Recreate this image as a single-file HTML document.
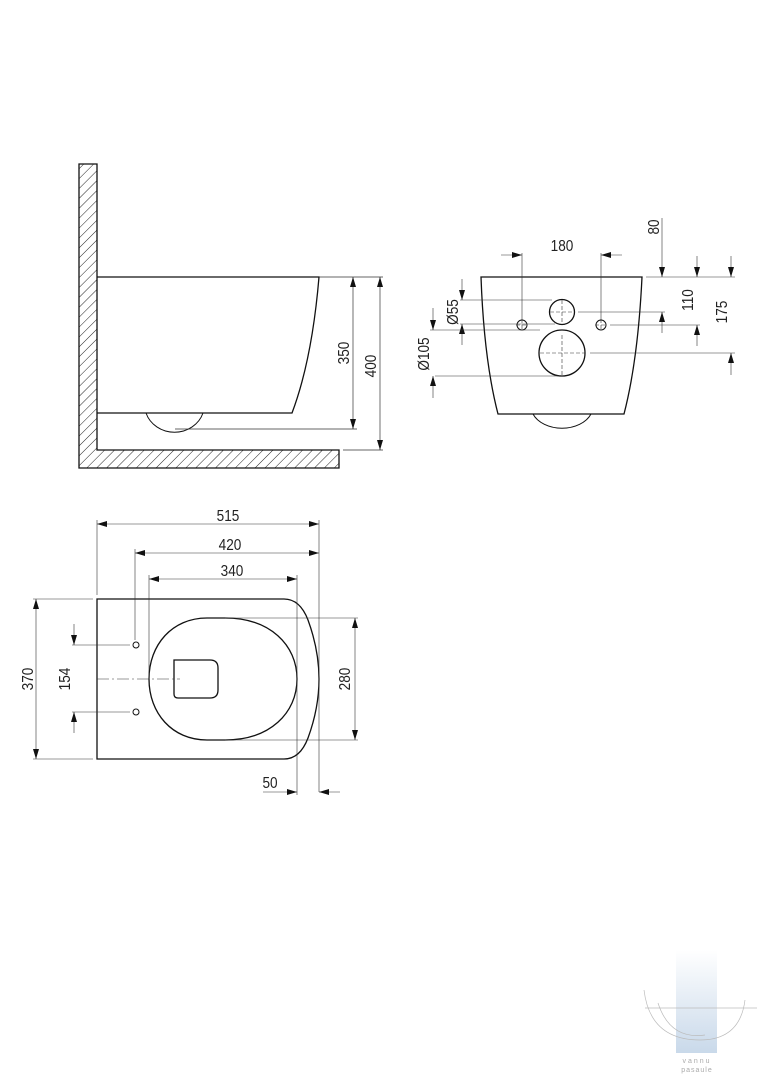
<!DOCTYPE html>
<html><head><meta charset="utf-8"><style>
html,body{margin:0;padding:0;background:#fff;}
svg text{font-family:"Liberation Sans",sans-serif;font-size:16px;fill:#222;}
</style></head><body>
<svg width="764" height="1080" viewBox="0 0 764 1080" xmlns="http://www.w3.org/2000/svg">
<defs>
<pattern id="h" width="7" height="7" patternUnits="userSpaceOnUse" patternTransform="rotate(45)">
<line x1="0" y1="0" x2="0" y2="7" stroke="#222" stroke-width="1"/></pattern>
<marker id="a" viewBox="0 0 10 6" refX="10" refY="3" markerWidth="10" markerHeight="6" orient="auto-start-reverse" markerUnits="userSpaceOnUse"><path d="M0,0 L10,3 L0,6 Z" fill="#111"/></marker>
<linearGradient id="g" x1="0" y1="0" x2="0" y2="1"><stop offset="0" stop-color="#fff"/><stop offset="1" stop-color="#c9d9ea"/></linearGradient>
</defs>
<g stroke="#111" stroke-width="1.3" fill="none">
<path d="M79,164 H97 V450 H339 V468 H79 Z" fill="url(#h)"/>
<path d="M97,277 H319 Q312,360 292,413 H97"/>
<path d="M146,413 A30,28 0 0 0 203,413" stroke-width="1"/>
</g>
<g stroke="#333" stroke-width="0.7" fill="none">
<line x1="319" y1="277" x2="383" y2="277"/>
<line x1="175" y1="429" x2="357" y2="429"/>
<line x1="343" y1="450" x2="383" y2="450"/>
<line x1="353" y1="277" x2="353" y2="429" marker-start="url(#a)" marker-end="url(#a)"/>
<line x1="380" y1="277" x2="380" y2="450" marker-start="url(#a)" marker-end="url(#a)"/>
</g>
<g transform="translate(349,353) rotate(-90) scale(0.85,1)"><text text-anchor="middle">350</text></g>
<g transform="translate(376,366) rotate(-90) scale(0.85,1)"><text text-anchor="middle">400</text></g>

<g stroke="#111" stroke-width="1.3" fill="none">
<path d="M481,277 H642 Q638,360 624,414 H498 Q484,360 481,277 Z"/>
<path d="M533,414 A31,22 0 0 0 591,414" stroke-width="1"/>
<circle cx="562" cy="312" r="12.5"/>
<circle cx="562" cy="353" r="23"/>
<circle cx="522" cy="325" r="5" stroke-width="1"/>
<circle cx="601" cy="325" r="5" stroke-width="1"/>
</g>
<g stroke="#333" stroke-width="0.6" fill="none">
<path d="M562,300 V324 M550,312 H574 M562,335 V376 M540,353 H585 M522,319 V331 M516,325 H528 M601,319 V331 M595,325 H607" stroke-dasharray="4,2"/>
<line x1="522" y1="253" x2="522" y2="320"/>
<line x1="601" y1="253" x2="601" y2="320"/>
<line x1="501" y1="255" x2="522" y2="255" marker-end="url(#a)"/>
<line x1="622" y1="255" x2="601" y2="255" marker-end="url(#a)"/>
<line x1="460" y1="300" x2="552" y2="300"/>
<line x1="460" y1="324" x2="555" y2="324"/>
<line x1="462" y1="279" x2="462" y2="300" marker-end="url(#a)"/>
<line x1="462" y1="345" x2="462" y2="324" marker-end="url(#a)"/>
<line x1="430" y1="330" x2="540" y2="330"/>
<line x1="435" y1="376" x2="560" y2="376"/>
<line x1="433" y1="308" x2="433" y2="330" marker-end="url(#a)"/>
<line x1="433" y1="398" x2="433" y2="376" marker-end="url(#a)"/>
<line x1="646" y1="277" x2="735" y2="277"/>
<line x1="578" y1="312" x2="665" y2="312"/>
<line x1="610" y1="325" x2="700" y2="325"/>
<line x1="590" y1="353" x2="735" y2="353"/>
<line x1="662" y1="218" x2="662" y2="277" marker-end="url(#a)"/>
<line x1="662" y1="333" x2="662" y2="312" marker-end="url(#a)"/>
<line x1="697" y1="256" x2="697" y2="277" marker-end="url(#a)"/>
<line x1="697" y1="346" x2="697" y2="325" marker-end="url(#a)"/>
<line x1="731" y1="256" x2="731" y2="277" marker-end="url(#a)"/>
<line x1="731" y1="375" x2="731" y2="353" marker-end="url(#a)"/>
</g>
<g transform="translate(562,251) scale(0.85,1)"><text text-anchor="middle">180</text></g>
<g transform="translate(458,312) rotate(-90) scale(0.85,1)"><text text-anchor="middle">Ø55</text></g>
<g transform="translate(429,354) rotate(-90) scale(0.85,1)"><text text-anchor="middle">Ø105</text></g>
<g transform="translate(659,227) rotate(-90) scale(0.85,1)"><text text-anchor="middle">80</text></g>
<g transform="translate(693,300) rotate(-90) scale(0.85,1)"><text text-anchor="middle">110</text></g>
<g transform="translate(727,312) rotate(-90) scale(0.85,1)"><text text-anchor="middle">175</text></g>

<g stroke="#111" stroke-width="1.3" fill="none">
<path d="M97,599 H284 Q300,599 308,620 Q319,650 319,679 Q319,708 308,738 Q300,759 284,759 H97 Z"/>
<path d="M225,618 C270,618 297,645 297,679 C297,713 270,740 225,740 L207,740 C172,740 149,713 149,679 C149,645 172,618 207,618 Z"/>
<path d="M174,660 H210 Q218,660 218,668 V690 Q218,698 210,698 H178 Q174,698 174,694 Z"/>
<circle cx="136" cy="645" r="3" stroke-width="1"/>
<circle cx="136" cy="712" r="3" stroke-width="1"/>
</g>
<g stroke="#333" stroke-width="0.6" fill="none">
<line x1="97" y1="679" x2="180" y2="679" stroke-dasharray="12,3,2,3"/>
<line x1="97" y1="520" x2="97" y2="595"/>
<line x1="319" y1="520" x2="319" y2="792"/>
<line x1="135" y1="549" x2="135" y2="640"/>
<line x1="149" y1="575" x2="149" y2="679"/>
<line x1="297" y1="575" x2="297" y2="795"/>
<line x1="97" y1="524" x2="319" y2="524" marker-start="url(#a)" marker-end="url(#a)"/>
<line x1="135" y1="553" x2="319" y2="553" marker-start="url(#a)" marker-end="url(#a)"/>
<line x1="149" y1="579" x2="297" y2="579" marker-start="url(#a)" marker-end="url(#a)"/>
<line x1="33" y1="599" x2="93" y2="599"/>
<line x1="33" y1="759" x2="93" y2="759"/>
<line x1="36" y1="599" x2="36" y2="759" marker-start="url(#a)" marker-end="url(#a)"/>
<line x1="72" y1="645" x2="130" y2="645"/>
<line x1="72" y1="712" x2="130" y2="712"/>
<line x1="74" y1="624" x2="74" y2="645" marker-end="url(#a)"/>
<line x1="74" y1="733" x2="74" y2="712" marker-end="url(#a)"/>
<line x1="225" y1="618" x2="358" y2="618"/>
<line x1="225" y1="740" x2="358" y2="740"/>
<line x1="355" y1="618" x2="355" y2="740" marker-start="url(#a)" marker-end="url(#a)"/>
<line x1="263" y1="792" x2="297" y2="792" marker-end="url(#a)"/>
<line x1="340" y1="792" x2="319" y2="792" marker-end="url(#a)"/>
</g>
<g transform="translate(228,521) scale(0.85,1)"><text text-anchor="middle">515</text></g>
<g transform="translate(230,550) scale(0.85,1)"><text text-anchor="middle">420</text></g>
<g transform="translate(232,576) scale(0.85,1)"><text text-anchor="middle">340</text></g>
<g transform="translate(33,679) rotate(-90) scale(0.85,1)"><text text-anchor="middle">370</text></g>
<g transform="translate(70,679) rotate(-90) scale(0.85,1)"><text text-anchor="middle">154</text></g>
<g transform="translate(350,679) rotate(-90) scale(0.85,1)"><text text-anchor="middle">280</text></g>
<g transform="translate(270,788) scale(0.85,1)"><text text-anchor="middle">50</text></g>

<rect x="676" y="950" width="41" height="103" fill="url(#g)"/>
<g stroke="#bbb" stroke-width="0.7" fill="none">
<path d="M645,1008 H757"/>
<path d="M644,990 Q650,1040 700,1040 Q740,1040 745,1000"/>
<path d="M658,1003 Q670,1040 705,1035"/>
</g>
<text x="697" y="1063" text-anchor="middle" style="font-size:7px;fill:#aaa;letter-spacing:2px">vannu</text>
<text x="697" y="1072" text-anchor="middle" style="font-size:7px;fill:#aaa;letter-spacing:1px">pasaule</text>
</svg>
</body></html>
